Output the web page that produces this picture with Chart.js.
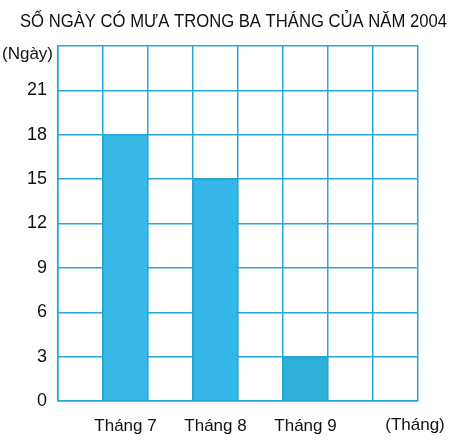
<!DOCTYPE html>
<html>
<head>
<meta charset="utf-8">
<script src="https://cdn.jsdelivr.net/npm/chart.js@4/dist/chart.umd.min.js"></script>
<style>
html,body{margin:0;padding:0;background:#fff;}
#wrap{width:452px;height:440px;position:relative;}
</style>
</head>
<body>
<div id="wrap"><canvas id="c" width="452" height="440"></canvas></div>
<script>
const titleText = "SỐ NGÀY CÓ MƯA TRONG BA THÁNG CỦA NĂM 2004";
const yAxisLabel = "(Ngày)";
const xAxisLabel = "(Tháng)";
const categories = ["", "Tháng 7", "", "Tháng 8", "", "Tháng 9", "", ""];
const rainyDays = [null, 18, null, 15, null, 3, null, null];
const barColors = ["#35b8ea", "#38bae9", "#35b8ea", "#35b6e8", "#35b8ea", "#2eafd8", "#35b8ea", "#35b8ea"];
const yMin = 0, yMax = 24, yStep = 3;

const FONT = "'Liberation Sans', Arial, sans-serif";
const gridColor = "#27a6dc";
const textColor = "#111111";

const extraText = {
  id: "extraText",
  afterDraw(chart) {
    const ctx = chart.ctx;
    const area = chart.chartArea;
    ctx.save();
    ctx.fillStyle = textColor;
    ctx.font = "19px " + FONT;
    ctx.textAlign = "center";
    ctx.textBaseline = "alphabetic";
    ctx.fillText(titleText, 233.5, 27, 427);
    ctx.font = "17px " + FONT;
    ctx.textAlign = "right";
    ctx.textBaseline = "middle";
    ctx.fillText(yAxisLabel, area.left - 5, area.top + 8);
    ctx.textAlign = "center";
    ctx.fillText(xAxisLabel, area.right - 3, area.bottom + 24);
    ctx.restore();
  }
};

new Chart(document.getElementById("c"), {
  type: "bar",
  data: {
    labels: categories,
    datasets: [{
      data: rainyDays,
      backgroundColor: barColors,
      borderColor: "#1f9fd2",
      borderWidth: 1,
      barPercentage: 1,
      categoryPercentage: 1
    }]
  },
  options: {
    responsive: false,
    animation: false,
    devicePixelRatio: 1,
    layout: { padding: { top: 46, right: 34, left: 0, bottom: 0 } },
    plugins: { legend: { display: false }, title: { display: false }, tooltip: { enabled: false } },
    scales: {
      x: {
        grid: { color: gridColor, lineWidth: 1.5, drawTicks: false, offset: true },
        border: { color: gridColor, width: 1.5 },
        ticks: { color: textColor, font: { family: FONT, size: 17 }, padding: 15, maxRotation: 0, autoSkip: false },
        afterFit(axis) { axis.height = 39; }
      },
      y: {
        min: yMin, max: yMax,
        grid: { color: gridColor, lineWidth: 1.5, drawTicks: false },
        border: { color: gridColor, width: 1.5 },
        ticks: {
          stepSize: yStep,
          color: textColor,
          font: { family: FONT, size: 18 },
          padding: 11,
          callback: (v) => v === yMax ? "" : String(v)
        },
        afterFit(axis) { axis.width = 58; }
      }
    }
  },
  plugins: [extraText]
});
</script>
</body>
</html>
